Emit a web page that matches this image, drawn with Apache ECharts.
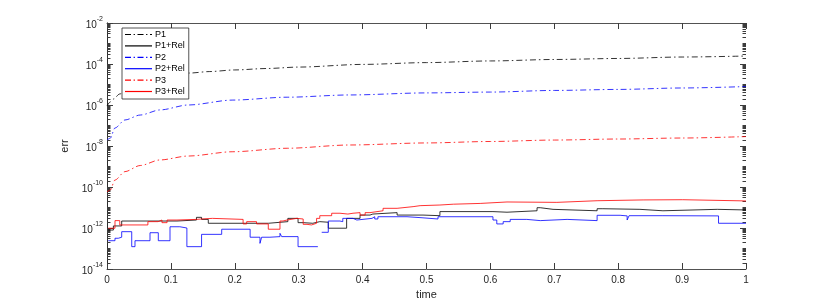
<!DOCTYPE html>
<html><head><meta charset="utf-8">
<script src="https://cdn.jsdelivr.net/npm/echarts@6/dist/echarts.min.js"></script>
<style>html,body{margin:0;padding:0;background:#fff}#c{width:830px;height:302px}</style>
</head><body><div id="c"></div>
<script>
// ---- data ----
const seriesNames = ['P1', 'P1+Rel', 'P2', 'P2+Rel', 'P3', 'P3+Rel'];
const seriesColors = ['#000000', '#000000', '#0000ff', '#0000ff', '#ff0000', '#ff0000'];
const xTickLabels = ['0','0.1','0.2','0.3','0.4','0.5','0.6','0.7','0.8','0.9','1'];
const yTickExponents = [-14, -12, -10, -8, -6, -4, -2];

const tP1 = [0,0.005,0.01,0.02,0.03,0.05,0.07,0.1,0.13,0.16,0.2,0.25,0.3,0.4,0.5,0.6,0.7,0.8,0.9,1.0];
const p1  = [8.9e-7,1.41e-6,1.95e-6,3.47e-6,4.79e-6,9.5e-6,1.48e-5,2.57e-5,3.63e-5,4.27e-5,5.13e-5,6.03e-5,7.08e-5,9.55e-5,1.17e-4,1.41e-4,1.66e-4,1.86e-4,2.19e-4,2.45e-4];

const tP23 = [0,0.005,0.0125,0.028,0.052,0.083,0.127,0.197,0.282,0.38,0.5,0.6,0.7,0.8,0.9,1.0];
const p2   = [1.95e-8,2.40e-8,7.59e-8,1.86e-7,3.24e-7,5.75e-7,1.0e-6,1.74e-6,2.40e-6,3.09e-6,3.89e-6,4.27e-6,5.13e-6,5.75e-6,6.76e-6,7.94e-6];
const p3   = [5.75e-11,7.08e-11,2.19e-10,5.62e-10,1.12e-9,2.09e-9,3.24e-9,5.25e-9,7.76e-9,1.12e-8,1.41e-8,1.66e-8,1.95e-8,2.19e-8,2.45e-8,2.88e-8];

const tRel1 = [0.002,0.010,0.023,0.1095,0.140,0.148,0.1585,0.2524,0.283,0.299,0.307,0.322,0.333,0.3463,0.375,0.396,0.4116,0.416,0.454,0.4945,0.521,0.604,0.626,0.673,0.678,0.698,0.767,0.776,0.834,0.870,0.955,1.0];
const rel1  = [7.94e-13,1.26e-12,2.19e-12,2.45e-12,3.31e-12,2.63e-12,1.70e-12,2.04e-12,2.95e-12,1.82e-12,1.70e-12,2.04e-12,1.91e-12,9.77e-13,2.95e-12,4.27e-12,4.79e-12,5.62e-12,4.27e-12,3.98e-12,6.31e-12,5.89e-12,6.92e-12,9.77e-12,8.13e-12,6.92e-12,8.71e-12,8.13e-12,6.92e-12,8.13e-12,7.59e-12,7.59e-12];

const tRel2 = [0.002,0.0125,0.0177,0.023,0.0387,0.0438,0.0673,0.0803,0.0986,0.114,0.125,0.148,0.1795,0.224,0.2394,0.242,0.255,0.2707,0.2734,0.299,0.3255,0.33,0.336,0.3463,0.3646,0.369,0.385,0.391,0.4147,0.419,0.424,0.4695,0.493,0.518,0.604,0.610,0.620,0.631,0.657,0.678,0.720,0.767,0.803,0.814,0.817,0.870,0.873,0.957,1.0];
const rel2  = [2.40e-13,3.16e-13,3.55e-13,6.61e-13,1.23e-13,2.40e-13,5.89e-13,2.40e-13,1.15e-12,1.00e-12,1.23e-13,4.90e-13,8.71e-13,3.55e-13,1.78e-13,3.55e-13,3.80e-13,5.50e-13,3.80e-13,1.23e-13,1.23e-13,null,6.17e-13,2.19e-12,2.04e-12,2.95e-12,2.45e-12,2.95e-12,3.55e-12,2.75e-12,3.55e-12,3.16e-12,2.75e-12,3.55e-12,2.45e-12,1.58e-12,2.04e-12,2.63e-12,2.29e-12,2.63e-12,2.29e-12,4.17e-12,3.89e-12,2.45e-12,3.98e-12,3.31e-12,3.89e-12,1.70e-12,1.70e-12];

const tRel3 = [0.002,0.0125,0.020,0.064,0.080,0.086,0.094,0.1095,0.140,0.148,0.165,0.213,0.2186,0.234,0.2524,0.2707,0.2754,0.2817,0.297,0.307,0.313,0.320,0.328,0.333,0.3516,0.3646,0.377,0.385,0.396,0.404,0.4116,0.432,0.454,0.479,0.490,0.521,0.542,0.584,0.626,0.704,0.767,0.839,0.901,1.0];
const rel3  = [9.77e-13,2.29e-12,1.41e-12,2.04e-12,2.45e-12,1.82e-12,2.45e-12,2.63e-12,2.75e-12,2.95e-12,2.63e-12,1.58e-12,2.04e-12,1.58e-12,8.71e-13,2.19e-12,2.45e-12,2.95e-12,2.75e-12,1.51e-12,1.41e-12,1.70e-12,2.95e-12,3.98e-12,5.25e-12,4.79e-12,5.25e-12,5.62e-12,4.27e-12,5.62e-12,6.92e-12,9.12e-12,1.10e-11,1.23e-11,1.32e-11,1.45e-11,1.58e-11,1.86e-11,1.78e-11,2.14e-11,2.34e-11,2.40e-11,2.09e-11,2.09e-11];

// ---- build ----
const zip = (xs, ys) => xs.map((x, i) => [x, ys[i] === null ? '-' : ys[i]]);
const FONT = 'Liberation Sans, Helvetica, Arial, sans-serif';
const AX = '#262626';
const dashDot = [6, 3, 1.5, 3];
const ICON_DASHDOT = 'path://M0 0H6V1.2H0Z M8.6 0H9.9V1.2H8.6Z M12.5 0H18.5V1.2H12.5Z M21.1 0H22.4V1.2H21.1Z M25 0H27V1.2H25Z';
const ICON_SOLID = 'path://M0 0H27V1.2H0Z';
const legendIcons = [ICON_DASHDOT, ICON_SOLID, ICON_DASHDOT, ICON_SOLID, ICON_DASHDOT, ICON_SOLID];

// tick decoration positions in log10 space
const majorVals = yTickExponents.slice();
const minorVals = [];
for (let n = -14; n < -2; n++) {
  for (let k = 1; k <= 9; k++) {
    if (k === 1 && n % 2 === 0) continue;
    minorVals.push(n + Math.log10(k));
  }
}
const tickAxis = (pos, vals, len) => ({
  type: 'value', min: -14, max: -2, position: pos, gridIndex: 0,
  axisLine: {show: false}, splitLine: {show: false},
  axisLabel: {show: false, customValues: vals},
  axisTick: {show: true, inside: true, length: len, customValues: vals, lineStyle: {color: '#3c3c3c', width: 1}}
});

const chart = echarts.init(document.getElementById('c'), null, {renderer: 'canvas'});
const yLabelFmt = v => {
  const e = Math.round(Math.log10(v));
  return yTickExponents.indexOf(e) >= 0 ? '{b|10}{s|' + e + '}' : '';
};

chart.setOption({
  animation: false,
  backgroundColor: '#fff',
  textStyle: {fontFamily: FONT},
  grid: {left: 107, right: 84, top: 23, bottom: 33, containLabel: false, outerBoundsMode: 'none'},
  legend: {
    data: seriesNames.map((n, i) => ({
      name: n,
      icon: legendIcons[i],
      itemStyle: {color: seriesColors[i], opacity: 1, borderWidth: 0}
    })),
    zlevel: 1, z: 20,
    symbolKeepAspect: true,
    orient: 'vertical', left: 122, top: 28,
    itemWidth: 27, itemHeight: 8, itemGap: 2.4,
    padding: [2, 4, 3, 3],
    backgroundColor: '#fff', borderColor: AX, borderWidth: 0.8, borderRadius: 0,
    textStyle: {fontSize: 9, color: '#000', fontFamily: FONT, padding: [0, 0, 0, -2]},
    selectedMode: false
  },
  xAxis: [{
    type: 'value', min: 0, max: 1, interval: 0.1, position: 'bottom',
    name: 'time', nameLocation: 'middle', nameGap: 13,
    nameTextStyle: {fontSize: 11, color: AX, fontFamily: FONT},
    axisLine: {show: true, lineStyle: {color: AX, width: 0.8}},
    axisTick: {show: true, inside: true, length: 6, lineStyle: {color: '#3c3c3c', width: 1}},
    axisLabel: {fontSize: 10, color: AX, margin: 6, fontFamily: FONT, formatter: (v) => xTickLabels[Math.round(v * 10)]},
    splitLine: {show: false}
  }, {
    type: 'value', min: 0, max: 1, interval: 0.1, position: 'top',
    axisLine: {show: true, lineStyle: {color: AX, width: 0.8}},
    axisTick: {show: true, inside: true, length: 6, lineStyle: {color: '#3c3c3c', width: 1}},
    axisLabel: {show: false}, splitLine: {show: false}
  }],
  yAxis: [{
    type: 'log', logBase: 10, min: 1e-14, max: 1e-2, interval: 2, position: 'left',
    name: 'err', nameLocation: 'middle', nameGap: 24, nameRotate: 90,
    nameTextStyle: {fontSize: 11, color: AX, fontFamily: FONT},
    axisLine: {show: true, lineStyle: {color: AX, width: 0.8}},
    axisTick: {show: false},
    axisLabel: {
      margin: 4, formatter: yLabelFmt, showMinLabel: true, showMaxLabel: true,
      rich: {
        b: {fontSize: 10, color: AX, fontFamily: FONT, lineHeight: 15, verticalAlign: 'bottom'},
        s: {fontSize: 7, color: AX, fontFamily: FONT, lineHeight: 8, verticalAlign: 'top'}
      }
    },
    splitLine: {show: false}
  }, {
    type: 'log', logBase: 10, min: 1e-14, max: 1e-2, interval: 2, position: 'right',
    axisLine: {show: true, lineStyle: {color: AX, width: 0.8}},
    axisTick: {show: false},
    axisLabel: {show: false}, splitLine: {show: false}
  },
  tickAxis('left', majorVals, 6), tickAxis('right', majorVals, 6),
  tickAxis('left', minorVals, 3.5), tickAxis('right', minorVals, 3.5)],
  series: [
    {name: 'P1', type: 'line', data: zip(tP1, p1), symbol: 'none', smooth: 0.3, smoothMonotone: 'x', z: 2,
     lineStyle: {color: '#000', width: 0.8, type: dashDot}, itemStyle: {color: '#000'}},
    {name: 'P1+Rel', type: 'line', step: 'end', data: zip(tRel1, rel1), symbol: 'none', z: 2,
     lineStyle: {color: '#000', width: 0.8}, itemStyle: {color: '#000'}},
    {name: 'P2', type: 'line', data: zip(tP23, p2), symbol: 'none', smooth: 0.3, smoothMonotone: 'x', z: 2,
     lineStyle: {color: '#0000ff', width: 0.8, type: dashDot}, itemStyle: {color: '#0000ff'}},
    {name: 'P2+Rel', type: 'line', step: 'end', data: zip(tRel2, rel2), symbol: 'none', connectNulls: false, z: 2,
     lineStyle: {color: '#0000ff', width: 0.8}, itemStyle: {color: '#0000ff'}},
    {name: 'P3', type: 'line', data: zip(tP23, p3), symbol: 'none', smooth: 0.3, smoothMonotone: 'x', z: 2,
     lineStyle: {color: '#ff0000', width: 0.8, type: dashDot}, itemStyle: {color: '#ff0000'}},
    {name: 'P3+Rel', type: 'line', step: 'end', data: zip(tRel3, rel3), symbol: 'none', z: 2,
     lineStyle: {color: '#ff0000', width: 0.8}, itemStyle: {color: '#ff0000'}}
  ]
});
</script>
</body></html>
